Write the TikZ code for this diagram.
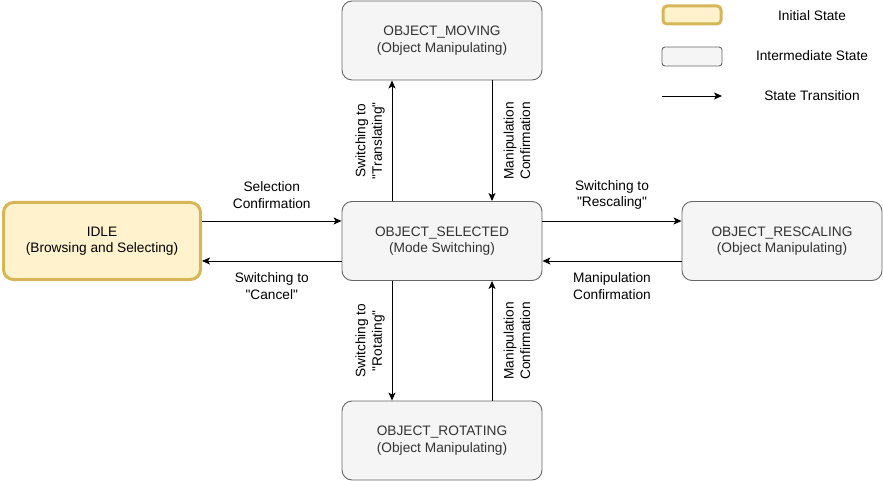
\documentclass[tikz,border=0pt]{standalone}
\usepackage{fontspec}
\setmainfont{Liberation Sans}[Ligatures=TeXOff]
\usetikzlibrary{arrows.meta}
\definecolor{grayfill}{HTML}{F5F5F5}
\definecolor{graydraw}{HTML}{666666}
\definecolor{grtext}{HTML}{333333}
\definecolor{yelfill}{HTML}{FFF2CC}
\definecolor{yeldraw}{HTML}{D6B656}
\begin{document}
\begin{tikzpicture}[x=1pt,y=-1pt,
  every node/.style={font=\fontsize{13.7}{16.5}\selectfont},
  state/.style={draw=graydraw, fill=grayfill, rounded corners=10pt, line width=0.9pt,
    minimum width=200pt, minimum height=79pt, align=center, text=grtext, inner sep=0pt},
  initstate/.style={draw=yeldraw, fill=yelfill, rounded corners=10pt, line width=3pt,
    minimum width=197pt, minimum height=77pt, align=center, text=black, inner sep=0pt},
  arr/.style={-{Stealth[length=8pt,width=7pt,inset=2pt]}, line width=0.9pt},
  lbl/.style={align=center, inner sep=0pt, text=black}
]
\useasboundingbox (0,0) rectangle (883,481);

\node[state] (mov) at (442,40.5) {OBJECT\_MOVING\\(Object Manipulating)};
\node[state] (sel) at (442,241) {OBJECT\_SELECTED\\(Mode Switching)};
\node[state] (rot) at (442,440.5) {OBJECT\_ROTATING\\(Object Manipulating)};
\node[state] (res) at (782,241) {OBJECT\_RESCALING\\(Object Manipulating)};
\node[initstate] (idle) at (102,241) {IDLE\\(Browsing and Selecting)};

% horizontal transitions
\draw[arr] ([yshift=20pt]idle.east) -- ([yshift=20pt]sel.west)
  node[lbl, midway, yshift=26pt] {Selection\\Confirmation};
\draw[arr] ([yshift=-20pt]sel.west) -- ([yshift=-20pt]idle.east)
  node[lbl, midway, yshift=-25pt] {Switching to\\"Cancel"};
\draw[arr] ([yshift=20pt]sel.east) -- ([yshift=20pt]res.west)
  node[lbl, midway, yshift=26pt] {Switching to\\"Rescaling"};
\draw[arr] ([yshift=-20pt]res.west) -- ([yshift=-20pt]sel.east)
  node[lbl, midway, yshift=-25pt] {Manipulation\\Confirmation};

% vertical transitions
\draw[arr] ([xshift=-50pt]sel.north) -- ([xshift=-50pt]mov.south)
  node[lbl, midway, xshift=-22pt, rotate=90] {Switching to\\"Translating"};
\draw[arr] ([xshift=50pt]mov.south) -- ([xshift=50pt]sel.north)
  node[lbl, midway, xshift=25pt, rotate=90] {Manipulation\\Confirmation};
\draw[arr] ([xshift=-50pt]sel.south) -- ([xshift=-50pt]rot.north)
  node[lbl, midway, xshift=-22pt, rotate=90] {Switching to\\"Rotating"};
\draw[arr] ([xshift=50pt]rot.north) -- ([xshift=50pt]sel.south)
  node[lbl, midway, xshift=25pt, rotate=90] {Manipulation\\Confirmation};

% legend
\node[initstate, minimum width=58pt, minimum height=18pt, rounded corners=4pt] (lgi) at (692,15) {};
\node[state, minimum width=60pt, minimum height=19pt, rounded corners=3pt] (lgm) at (692,56.5) {};
\coordinate (lga) at (662,96);
\coordinate (lgb) at (722,96);
\draw[arr] (lga) -- (lgb);
\node[lbl] (lti) at (812,16) {Initial State};
\node[lbl] (ltm) at (812,56) {Intermediate State};
\node[lbl] (ltt) at (812,96) {State Transition};
\end{tikzpicture}
\end{document}
